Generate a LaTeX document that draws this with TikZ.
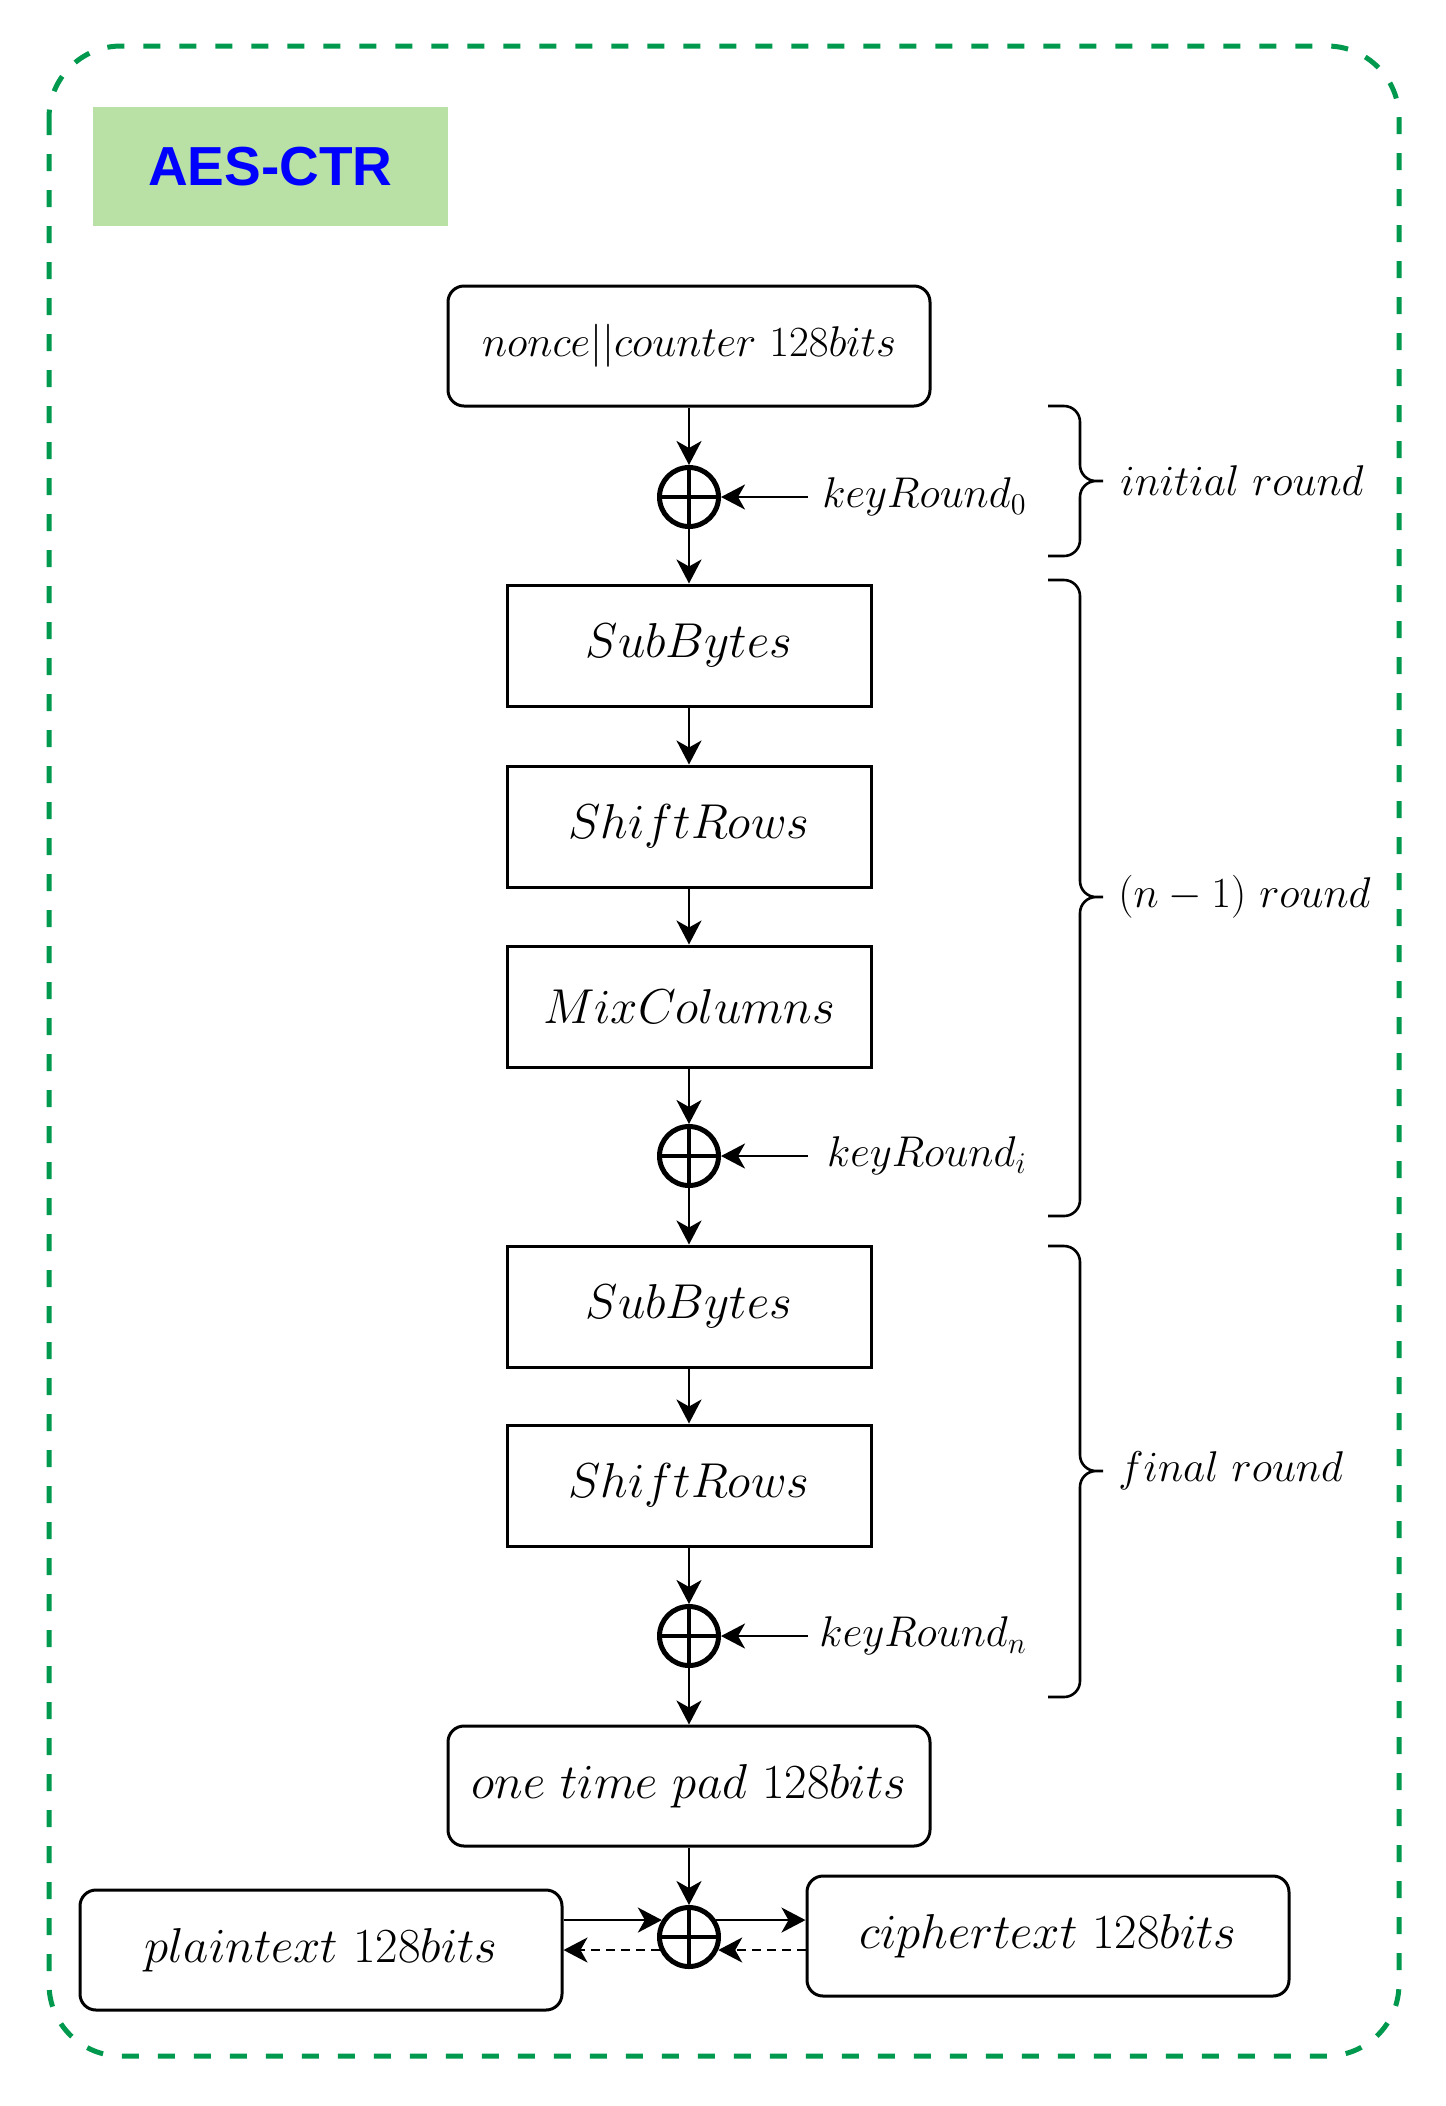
\RequirePackage{fix-cm}
\documentclass[tikz,border=0pt]{standalone}
\usepackage{fontspec}
\usepackage{amsmath}
\usetikzlibrary{arrows.meta}
\newfontfamily\aesfont{Liberation Sans}
\definecolor{aesgreen}{RGB}{0,153,77}
\definecolor{aesfill}{RGB}{185,224,165}

\begin{document}
\begin{tikzpicture}[x=0.5pt, y=-0.5pt,
  stage/.style={draw, line width=1.5pt, minimum width=182pt, minimum height=60.5pt, font=\fontsize{24.5}{29}\selectfont},
  block/.style={stage, rounded corners=8pt, minimum width=241pt, minimum height=60pt},
  xor/.style={circle, draw, line width=2.5pt, minimum size=29.5pt, inner sep=0pt,
    path picture={\draw[line width=1.75pt] (path picture bounding box.north) -- (path picture bounding box.south)
      (path picture bounding box.west) -- (path picture bounding box.east);}},
  arr/.style={-{Stealth[length=12pt, width=12.5pt, inset=3.5pt]}, line width=1.3pt},
  lbl/.style={inner sep=0pt, font=\fontsize{21.5}{26}\selectfont},
  brace/.style={line width=1.3pt, rounded corners=8pt}]
\useasboundingbox (0,0) rectangle (1446,2106);
% Frame
\draw[aesgreen, line width=2.5pt, dash pattern=on 8.5pt off 9.5pt, rounded corners=36pt] (49,46) rectangle (1399,2056);
\node[fill=aesfill, minimum width=177.5pt, minimum height=59.5pt, text=blue,
  font=\aesfont\bfseries\fontsize{27.5}{33}\selectfont] (title) at (270.5,166.5) {AES-CTR};
% Nodes
\node[block, font=\fontsize{21.5}{26}\selectfont] (nonce) at (689,346) {$nonce||counter\ 128bits$};
\node[xor] (xor1) at (689,497) {};
\node[stage] (sub1) at (689,645.5) {$SubBytes$};
\node[stage] (shift1) at (689,826.5) {$ShiftRows$};
\node[stage] (mix) at (689,1006.5) {$MixColumns$};
\node[xor] (xor2) at (689,1156) {};
\node[stage] (sub2) at (689,1306.5) {$SubBytes$};
\node[stage] (shift2) at (689,1485.5) {$ShiftRows$};
\node[xor] (xor3) at (689,1636) {};
\node[block] (pad) at (689,1786) {$one\ time\ pad\ 128bits$};
\node[xor] (xor4) at (689,1937) {};
\node[block] (plain) at (321,1950) {$plaintext\ 128bits$};
\node[block] (cipher) at (1048,1936) {$ciphertext\ 128bits$};
% Keys
\node[lbl, anchor=east] (key0) at (1027,497) {$keyRound_0$};
\node[lbl, anchor=east] (keyi) at (1027,1156) {$keyRound_i$};
\node[lbl, anchor=east] (keyn) at (1027,1636) {$keyRound_n$};
\coordinate (key0in) at (808,497);
\coordinate (keyiin) at (808,1156);
\coordinate (keynin) at (808,1636);
% Rounds
\foreach \ya/\ym/\yb in {406/481/556, 580/897/1216, 1246/1471/1697}
  \draw[brace] (1048,\ya) -- (1080,\ya) -- (1080,\ym) -- (1103,\ym)
               (1048,\yb) -- (1080,\yb) -- (1080,\ym) -- (1103,\ym);
\node[lbl, anchor=west] (initial) at (1120,481) {$initial\ round$};
\node[lbl, anchor=west] (middle) at (1118,897) {$(n-1)\ round$};
\node[lbl, anchor=west] (final) at (1118,1471) {$final\ round$};
% Lines
\foreach \from/\to in {nonce/xor1, xor1/sub1, sub1/shift1, shift1/mix, mix/xor2,
  xor2/sub2, sub2/shift2, shift2/xor3, xor3/pad, pad/xor4}
  \draw[arr] (\from) -- (\to);
\draw[arr] (key0in) -- (xor1);
\draw[arr] (keyiin) -- (xor2);
\draw[arr] (keynin) -- (xor3);
\draw[arr] (plain.east |- xor4.148) -- (xor4.148);
\draw[arr] (xor4.32) -- (cipher.west |- xor4.32);
\draw[arr, dash pattern=on 4.5pt off 3pt] (cipher.west |- xor4.-24) -- (xor4.-24);
\draw[arr, dash pattern=on 4.5pt off 3pt] (xor4.204) -- (plain.east |- xor4.204);
\end{tikzpicture}
\end{document}
